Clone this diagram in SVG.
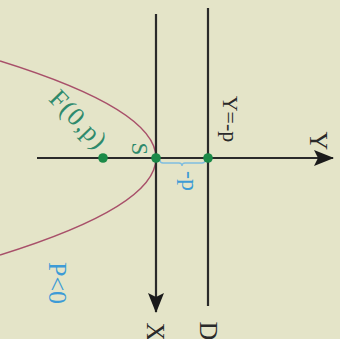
<svg xmlns="http://www.w3.org/2000/svg" width="340" height="339" viewBox="0 0 340 339">
  <defs>
    <style>
      .ax { stroke: #2a2a2a; stroke-width: 2.2; fill: none; }
      .lbl { font-family: "Liberation Serif", "Times New Roman", serif; fill: #2a2a2a; }
      .dot { fill: #1b8a48; }
      .teal { font-family: "Liberation Serif", "Times New Roman", serif; fill: #2e8a6c; }
      .blue { font-family: "Liberation Serif", "Times New Roman", serif; fill: #3d9bd6; }
    </style>
    <marker id="arr" viewBox="0 0 20 16" refX="19" refY="8" markerWidth="20" markerHeight="16" markerUnits="userSpaceOnUse" orient="auto">
      <path d="M0,0 L20,8 L0,16 L4,8 Z" fill="#1a1a1a"/>
    </marker>
  </defs>
  <rect x="0" y="0" width="340" height="339" fill="#e4e4c8"/>

  <g id="curve">
    <path d="M0,61 Q312,158 0,255" fill="none" stroke="#a8506a" stroke-width="1.5"/>
  </g>

  <g id="connectors">
    <line id="y-axis" class="ax" x1="37" y1="158" x2="333" y2="158" marker-end="url(#arr)"/>
    <line id="x-axis" class="ax" x1="156" y1="14" x2="156" y2="312" marker-end="url(#arr)"/>
    <line id="directrix" class="ax" x1="208" y1="8" x2="208" y2="306"/>
    <path id="brace" d="M160,160 q0,3 3,3 L179,163 q3,0 3,3 q0,-3 3,-3 L202,163 q3,0 3,-3" fill="none" stroke="#7fbde0" stroke-width="1.3"/>
  </g>

  <g id="points">
    <circle id="focus" class="dot" cx="103" cy="158" r="4.8"/>
    <circle id="vertex" class="dot" cx="156" cy="158" r="4.8"/>
    <circle id="dpoint" class="dot" cx="208" cy="158" r="4.8"/>
  </g>

  <g id="labels">
    <text class="teal" font-size="26" text-anchor="middle" textLength="70" lengthAdjust="spacing" transform="translate(72,125) rotate(46)">F(0,p)</text>
    <text class="teal" font-size="23" text-anchor="middle" transform="translate(132,149) rotate(90)">S</text>
    <text class="blue" font-size="24" text-anchor="middle" transform="translate(182,181) rotate(90)">-p</text>
    <text class="blue" font-size="26" text-anchor="middle" transform="translate(49,283) rotate(90)">P&lt;0</text>
    <text class="lbl" font-size="22" text-anchor="middle" transform="translate(223,119) rotate(90)">Y=-p</text>
    <text class="lbl" font-size="26" text-anchor="middle" transform="translate(310,141) rotate(90)">Y</text>
    <text class="lbl" font-size="26" text-anchor="middle" transform="translate(147,332) rotate(90)">X</text>
    <text class="lbl" font-size="26" text-anchor="middle" transform="translate(200,331) rotate(90)">D</text>
  </g>
</svg>
